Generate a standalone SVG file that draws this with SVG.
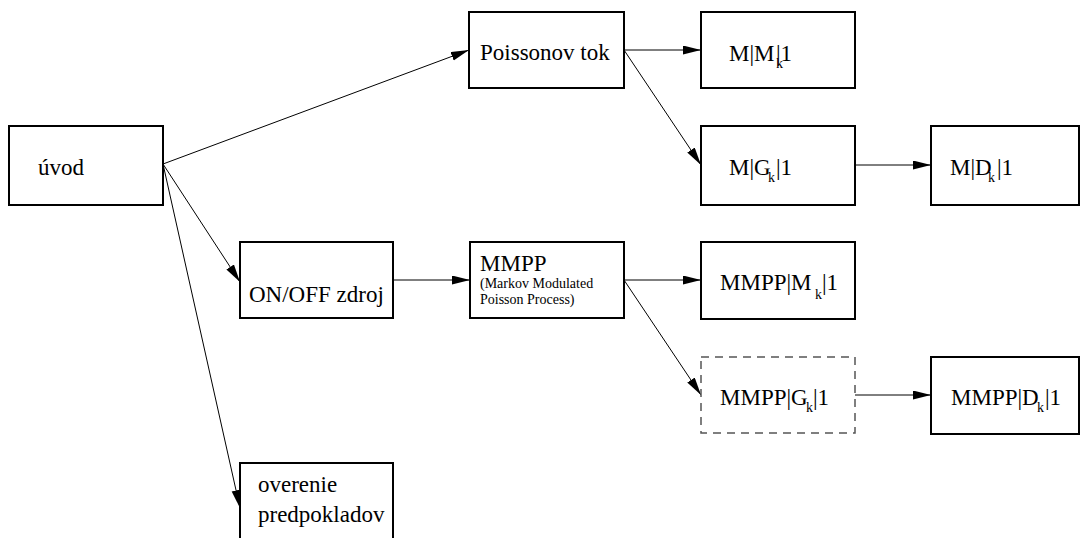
<svg xmlns="http://www.w3.org/2000/svg" width="1080" height="538" viewBox="0 0 1080 538">
  <style>
    .box { fill: #fff; stroke: #000; stroke-width: 2; }
    .dash { fill: #fff; stroke: #555; stroke-width: 1.5; stroke-dasharray: 8 6; }
    .t { font-family: "Liberation Serif", "Times New Roman", serif; font-size: 23px; fill: #000; }
    .s { font-size: 14px; }
    .edge { fill: none; stroke: #000; stroke-width: 1; marker-end: url(#arrow); }
  </style>
  <defs>
    <marker id="arrow" markerUnits="userSpaceOnUse" markerWidth="20" markerHeight="10" refX="18" refY="4.5" orient="auto">
      <path d="M0,0 L18,4.5 L0,9 z" fill="#000"/>
    </marker>
  </defs>
  <rect width="1080" height="538" fill="#fff"/>

  <g id="connectors">
    <line class="edge" x1="163" y1="164" x2="469" y2="50"/>
    <line class="edge" x1="163" y1="164" x2="240" y2="282"/>
    <line class="edge" x1="163" y1="164" x2="240" y2="508"/>
    <line class="edge" x1="624" y1="50" x2="701" y2="50"/>
    <line class="edge" x1="624" y1="50" x2="701" y2="165"/>
    <line class="edge" x1="855" y1="165" x2="931" y2="165"/>
    <line class="edge" x1="393" y1="280" x2="470" y2="280"/>
    <line class="edge" x1="624" y1="280" x2="701" y2="280"/>
    <line class="edge" x1="624" y1="280" x2="701" y2="395"/>
    <line class="edge" x1="855" y1="395" x2="931" y2="395"/>
  </g>

  <g id="uvod">
    <rect class="box" x="9" y="126" width="154" height="79"/>
    <text class="t" x="38" y="175">úvod</text>
  </g>

  <g id="poissonov-tok">
    <rect class="box" x="469" y="12" width="155" height="76"/>
    <text class="t" x="480" y="60">Poissonov tok</text>
  </g>

  <g id="m-mk-1">
    <rect class="box" x="701" y="12" width="154" height="76"/>
    <text class="t" x="729" y="61">M|M<tspan class="s" x="776" dy="7">k</tspan><tspan x="776" dy="-7">|1</tspan></text>
  </g>

  <g id="m-gk-1">
    <rect class="box" x="701" y="126" width="154" height="79"/>
    <text class="t" x="729" y="175">M|G<tspan class="s" x="768" dy="7">k</tspan><tspan x="776" dy="-7">|1</tspan></text>
  </g>

  <g id="m-dk-1">
    <rect class="box" x="931" y="126" width="148" height="79"/>
    <text class="t" x="950" y="175">M|D<tspan class="s" x="988" dy="7">k</tspan><tspan x="997" dy="-7">|1</tspan></text>
  </g>

  <g id="on-off-zdroj">
    <rect class="box" x="240" y="242" width="153" height="76"/>
    <text class="t" x="249" y="302">ON/OFF zdroj</text>
  </g>

  <g id="mmpp">
    <rect class="box" x="470" y="242" width="154" height="76"/>
    <text class="t" x="480" y="271">MMPP</text>
    <text class="t s" x="480" y="288">(Markov Modulated</text>
    <text class="t s" x="480" y="304">Poisson Process)</text>
  </g>

  <g id="mmpp-mk-1">
    <rect class="box" x="701" y="242" width="154" height="77"/>
    <text class="t" x="720" y="290">MMPP|M<tspan class="s" x="815" dy="9">k</tspan><tspan x="822" dy="-9">|1</tspan></text>
  </g>

  <g id="mmpp-gk-1">
    <rect class="dash" x="701" y="357" width="154" height="76"/>
    <text class="t" x="720" y="405">MMPP|G<tspan class="s" x="806" dy="7">k</tspan><tspan x="813" dy="-7">|1</tspan></text>
  </g>

  <g id="mmpp-dk-1">
    <rect class="box" x="931" y="357" width="148" height="77"/>
    <text class="t" x="951" y="405">MMPP|D<tspan class="s" x="1037" dy="7">k</tspan><tspan x="1045" dy="-7">|1</tspan></text>
  </g>

  <g id="overenie-predpokladov">
    <rect class="box" x="240" y="463" width="153" height="90"/>
    <text class="t" x="258" y="492">overenie</text>
    <text class="t" x="258" y="522">predpokladov</text>
  </g>
</svg>
